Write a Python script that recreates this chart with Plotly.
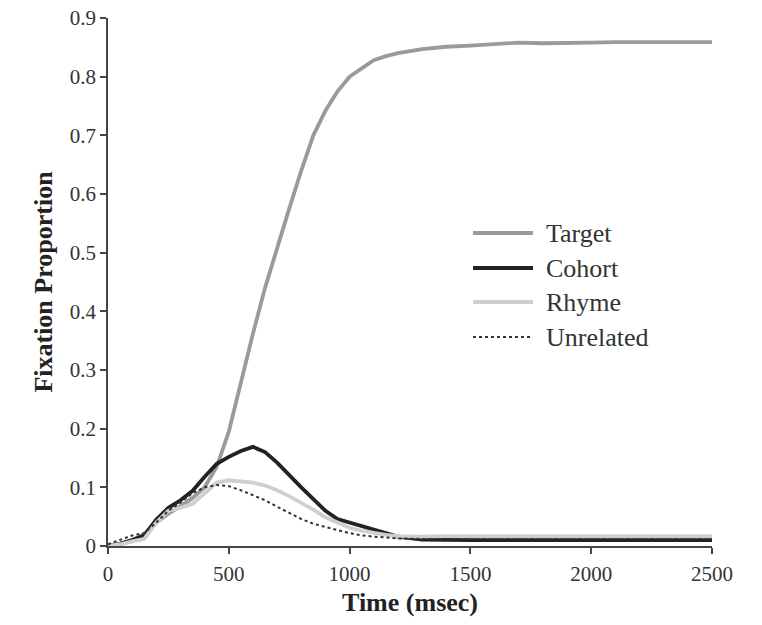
import plotly.graph_objects as go

time_ms = [0, 50, 100, 150, 200, 250, 300, 350, 400, 450, 500, 550, 600, 650, 700, 750,
           800, 850, 900, 950, 1000, 1050, 1100, 1150, 1200, 1300, 1400, 1500, 1600, 1700,
           1800, 1900, 2000, 2100, 2200, 2300, 2400, 2500]

target = [0.0, 0.003, 0.01, 0.02, 0.04, 0.055, 0.068, 0.082, 0.10, 0.135, 0.195, 0.28, 0.362,
          0.44, 0.51, 0.575, 0.64, 0.70, 0.742, 0.775, 0.80, 0.815, 0.828, 0.835, 0.84,
          0.847, 0.851, 0.853, 0.856, 0.858, 0.857, 0.857, 0.858, 0.859, 0.859, 0.859, 0.859, 0.859]

cohort = [0.0, 0.004, 0.01, 0.018, 0.045, 0.065, 0.078, 0.094, 0.118, 0.14, 0.152, 0.162,
          0.169, 0.16, 0.142, 0.12, 0.10, 0.08, 0.06, 0.046, 0.04, 0.034, 0.028, 0.022, 0.016,
          0.011, 0.01, 0.01, 0.01, 0.01, 0.01, 0.01, 0.01, 0.01, 0.01, 0.01, 0.01, 0.01]

rhyme = [0.0, 0.003, 0.008, 0.012, 0.04, 0.06, 0.065, 0.072, 0.09, 0.108, 0.112, 0.11,
         0.108, 0.103, 0.095, 0.085, 0.074, 0.062, 0.049, 0.04, 0.031, 0.026, 0.022, 0.019,
         0.017, 0.016, 0.017, 0.017, 0.017, 0.017, 0.017, 0.017, 0.017, 0.017, 0.017, 0.017,
         0.017, 0.017]

unrelated = [0.003, 0.01, 0.018, 0.022, 0.04, 0.06, 0.074, 0.09, 0.10, 0.104, 0.102, 0.095,
             0.087, 0.078, 0.067, 0.056, 0.046, 0.038, 0.032, 0.027, 0.022, 0.018, 0.016,
             0.014, 0.013, 0.012, 0.012, 0.012, 0.012, 0.012, 0.012, 0.012, 0.012, 0.012,
             0.012, 0.012, 0.012, 0.012]

x_ticks = [0, 500, 1000, 1500, 2000, 2500]
y_ticks = [0, 0.1, 0.2, 0.3, 0.4, 0.5, 0.6, 0.7, 0.8, 0.9]
y_tick_labels = ["0", "0.1", "0.2", "0.3", "0.4", "0.5", "0.6", "0.7", "0.8", "0.9"]

series_names = ["Target", "Cohort", "Rhyme", "Unrelated"]
series_values = [target, cohort, rhyme, unrelated]
series_lines = [
    dict(color="#9a9a9c", width=3.8),
    dict(color="#222226", width=3.8),
    dict(color="#cfcfcf", width=3.8),
    dict(color="#333338", width=2, dash="dot"),
]

font_family = "Liberation Serif"
fig = go.Figure()
for name, vals, line in zip(series_names, series_values, series_lines):
    fig.add_trace(go.Scatter(x=time_ms, y=vals, mode="lines", name=name, line=line,
                             showlegend=False))

# hand-drawn legend (long line samples like the reference)
leg_x0, leg_x1, leg_text_x = 0.6043, 0.7036, 0.7215
leg_y = [0.5928, 0.5265, 0.4621, 0.3958]
for name, line, yy in zip(series_names, series_lines, leg_y):
    fig.add_shape(type="line", xref="paper", yref="paper", x0=leg_x0, x1=leg_x1,
                  y0=yy, y1=yy, line=line)
    fig.add_annotation(xref="paper", yref="paper", x=leg_text_x, y=yy, text=name,
                       showarrow=False, xanchor="left", yanchor="middle",
                       font=dict(family=font_family, size=26, color="#333333"))

fig.update_layout(
    width=762, height=625,
    margin=dict(l=108, r=50, t=18, b=79),
    paper_bgcolor="white", plot_bgcolor="white",
    font=dict(family=font_family, color="#333333", size=21),
    showlegend=False,
    xaxis=dict(range=[0, 2500], tickvals=x_ticks, showgrid=False, zeroline=False,
               showline=True, linecolor="#444444", linewidth=1.5, automargin=False,
               ticks="outside", ticklen=6, tickcolor="#444444", tickwidth=1.5,
               tickfont=dict(size=21), ticklabelstandoff=2, ticklabeloverflow="allow",
               title=dict(text="<b>Time (msec)</b>", font=dict(size=26, color="#222222"),
                          standoff=8)),
    yaxis=dict(range=[0, 0.9], tickvals=y_ticks, ticktext=y_tick_labels, showgrid=False,
               zeroline=False, showline=True, linecolor="#444444", linewidth=1.5,
               automargin=False, ticklabeloverflow="allow",
               ticks="outside", ticklen=6, tickcolor="#444444", tickwidth=1.5,
               tickfont=dict(size=21),
               title=dict(text="<b>Fixation Proportion</b>", font=dict(size=26, color="#222222"),
                          standoff=10)),
)

fig.write_html("out.html", config={"displayModeBar": False},
               post_script="document.body.style.margin='0';document.body.style.overflow='hidden';")
